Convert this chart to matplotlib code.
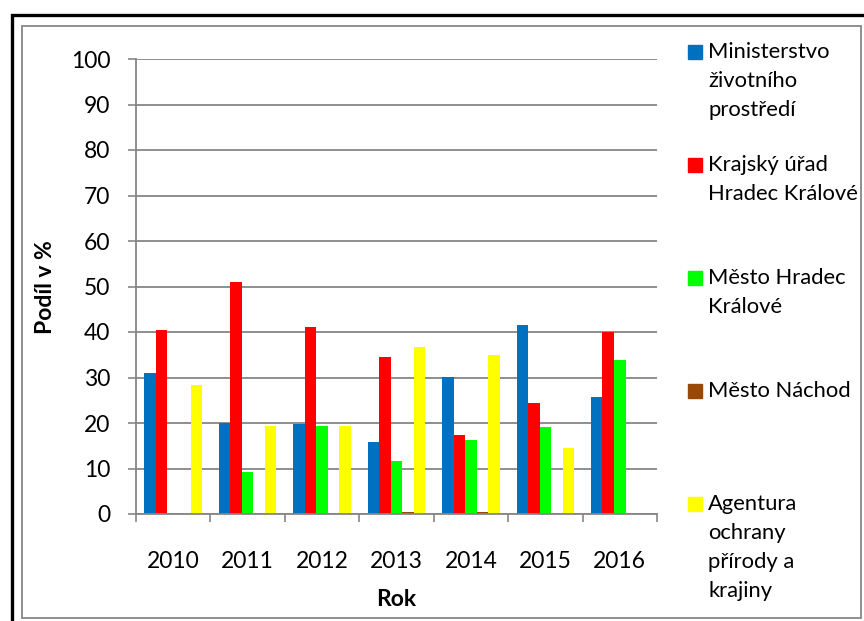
import numpy as np
import matplotlib.pyplot as plt
from matplotlib.patches import Rectangle

# data (share in %)
years = ["2010", "2011", "2012", "2013", "2014", "2015", "2016"]
mzp = [30.9, 20.0, 19.7, 15.9, 30.2, 41.6, 25.8]
kraj = [40.5, 50.9, 41.2, 34.4, 17.4, 24.3, 40.1]
mesto_hk = [0.0, 9.3, 19.4, 11.7, 16.3, 19.2, 33.9]
nachod = [0.0, 0.0, 0.0, 0.5, 0.5, 0.0, 0.0]
aopk = [28.4, 19.4, 19.4, 36.8, 35.0, 14.4, 0.0]

labels = ["Ministerstvo\nživotního\nprostředí",
          "Krajský úřad\nHradec Králové",
          "Město Hradec\nKrálové",
          "Město Náchod",
          "Agentura\nochrany\npřírody a\nkrajiny"]
colors = ["#0070C0", "#FF0000", "#00FF00", "#984807", "#FFFF00"]
series = [mzp, kraj, mesto_hk, nachod, aopk]

plt.rcParams['font.family'] = ['Lato', 'DejaVu Sans']
grey = "#868686"

fig = plt.figure(figsize=(8.64, 6.21), dpi=100)
ax = fig.add_axes([136 / 864, 1 - 514 / 621, 521 / 864, 455 / 621])

x = np.arange(len(years))
w = 0.155
for i, (vals, c) in enumerate(zip(series, colors)):
    ax.bar(x + (i - 2) * w, vals, w, color=c, zorder=3)

ax.set_xlim(-0.5, len(years) - 0.5)
ax.set_ylim(0, 100)
ax.set_yticks(range(0, 101, 10))
ax.set_xticks(x)
ax.set_xticklabels(years)
ax.set_xticks(np.arange(-0.5, len(years), 1), minor=True)
ax.tick_params(axis='x', which='major', length=0, pad=27, labelsize=16.5)
ax.tick_params(axis='x', which='minor', length=6, color=grey, width=1.2)
ax.tick_params(axis='y', length=5.5, color=grey, width=1.2, pad=13, labelsize=16.5)
ax.grid(axis='y', color=grey, linewidth=1.3, zorder=0)
for s in ['top', 'right']:
    ax.spines[s].set_visible(False)
for s in ['left', 'bottom']:
    ax.spines[s].set_color(grey)
    ax.spines[s].set_linewidth(1.3)
ax.spines['bottom'].set_zorder(4)

fig.text(396 / 864, 1 - 600 / 621, "Rok", ha='center', va='center',
         fontsize=16.5, fontweight='bold')
fig.text(45 / 864, 1 - 287 / 621, "Podíl v %", ha='center', va='center',
         rotation=90, fontsize=16.5, fontweight='bold')

# legend drawn by hand, one entry every 113 px
for i, (lab, c) in enumerate(zip(labels, colors)):
    yc = 52 + i * 113
    fig.patches.append(Rectangle((688 / 864, 1 - (yc + 7) / 621), 14 / 864, 14 / 621,
                                 transform=fig.transFigure, color=c))
    for j, line in enumerate(lab.split("\n")):
        fig.text(708 / 864, 1 - (yc + j * 29) / 621, line, ha='left', va='center',
                 fontsize=15.8)

# chart borders
fig.patches.append(Rectangle((22 / 864, 1 - 618 / 621), 839 / 864, 592 / 621,
                             transform=fig.transFigure, fill=False, edgecolor=grey,
                             linewidth=1.3))
fig.patches.append(Rectangle((12 / 864, -0.1), 1.0, 1 - 15 / 621 + 0.1,
                             transform=fig.transFigure, fill=False, edgecolor="black",
                             linewidth=2.4))

fig.savefig("out.png", dpi=100)
